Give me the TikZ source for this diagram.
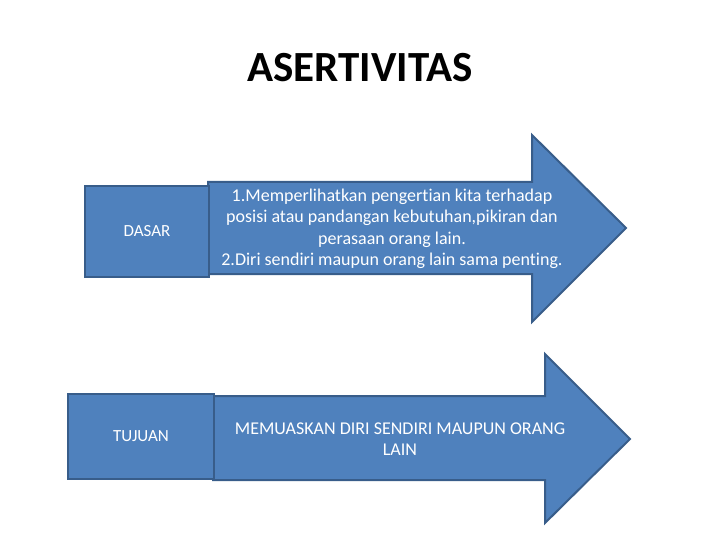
\documentclass[tikz,border=0pt]{standalone}
\usepackage{fontspec}
\setmainfont[Ligatures=NoCommon]{Carlito}
\usetikzlibrary{positioning}
\definecolor{boxfill}{HTML}{4F81BD}
\definecolor{boxline}{HTML}{385D8A}

\begin{document}
\begin{tikzpicture}[x=1pt, y=-1pt,
		shapefill/.style={fill=boxfill, draw=boxline, line width=2pt, line join=miter},
		labelbox/.style={shapefill, rectangle, anchor=north west, inner sep=0pt, text=white, font=\fontsize{17}{20}\selectfont},
		arrowtext/.style={text=white, align=center, font=\fontsize{18}{21.5}\selectfont}]
			\useasboundingbox (0,0) rectangle (720,540);
			\node (title) at (360,68) {\fontsize{43}{48}\selectfont\bfseries ASERTIVITAS};

			% first arrow
			\draw[shapefill] (208,182) -- (532,182) -- (532,135) -- (626,228) -- (532,322) -- (532,274) -- (208,274) -- cycle;
			\node[labelbox, minimum width=124pt, minimum height=91pt] (dasar) at (84,185) {DASAR};
			\node[arrowtext] (dasartext) at (392,229) {1.Memperlihatkan pengertian kita terhadap\\posisi atau pandangan kebutuhan,pikiran dan\\perasaan orang lain.\\2.Diri sendiri maupun orang lain sama penting.};

			% second arrow
			\draw[shapefill] (213,396) -- (545,396) -- (545,354) -- (630,439) -- (545,523) -- (545,480) -- (213,480) -- cycle;
			\node[labelbox, minimum width=146pt, minimum height=85pt] (tujuan) at (67,393) {TUJUAN};
			\node[arrowtext] (tujuantext) at (400,439) {MEMUASKAN DIRI SENDIRI MAUPUN ORANG\\LAIN};
		\end{tikzpicture}
\end{document}
